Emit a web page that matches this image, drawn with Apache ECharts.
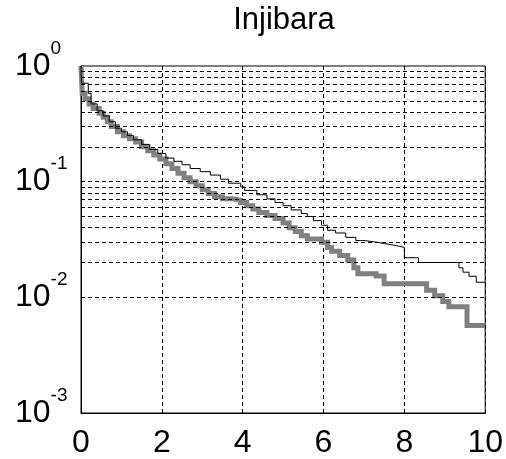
<!DOCTYPE html>
<html lang="en">
<head>
    <meta charset="UTF-8">
    <title>Injibara</title>
    <script src="https://cdn.jsdelivr.net/npm/echarts@6/dist/echarts.min.js"></script>
</head>
<body style="margin:0">
    <div id="main" style="width: 506px;height:459px;"></div>
    <script type="text/javascript">
        // thin black step curve
        var blackX = [0, 0.01, 0.18, 0.25, 0.4, 0.55, 0.7, 0.85, 1.0, 1.15, 1.3, 1.5, 1.7, 1.9, 2.1, 2.3, 2.5, 2.7, 2.95, 3.2, 3.45, 3.65, 3.95, 4.05, 4.35, 4.6, 4.8, 5.0, 5.2, 5.45, 5.6, 5.75, 5.95, 6.1, 6.3, 6.55, 6.8, 7.0, 7.3, 7.55, 7.8, 8.0, 8.35, 9.35, 9.45, 9.6, 9.78, 10];
        var blackY = [1, 0.71, 0.58, 0.47, 0.41, 0.37, 0.33, 0.29, 0.27, 0.25, 0.23, 0.21, 0.19, 0.175, 0.16, 0.15, 0.14, 0.13, 0.122, 0.114, 0.105, 0.097, 0.09, 0.084, 0.077, 0.071, 0.066, 0.062, 0.057, 0.053, 0.05, 0.046, 0.042, 0.038, 0.036, 0.033, 0.031, 0.030, 0.029, 0.028, 0.027, 0.022, 0.020, 0.018, 0.0165, 0.0152, 0.0135, 0.0135];

        // thick gray step curve
        var grayX = [0, 0.03, 0.1, 0.2, 0.3, 0.45, 0.55, 0.65, 0.75, 0.9, 1.05, 1.2, 1.35, 1.5, 1.65, 1.8, 1.95, 2.1, 2.25, 2.4, 2.55, 2.7, 2.85, 3.0, 3.15, 3.3, 3.5, 3.75, 3.95, 4.1, 4.25, 4.4, 4.6, 4.8, 5.0, 5.15, 5.3, 5.45, 5.6, 5.95, 6.1, 6.2, 6.4, 6.6, 6.75, 6.85, 7.3, 7.5, 8.55, 8.75, 8.95, 9.1, 9.55, 10];
        var grayY = [1, 0.58, 0.52, 0.47, 0.43, 0.39, 0.36, 0.33, 0.3, 0.27, 0.25, 0.235, 0.22, 0.2, 0.185, 0.17, 0.157, 0.143, 0.13, 0.118, 0.108, 0.1, 0.092, 0.085, 0.079, 0.074, 0.071, 0.069, 0.066, 0.062, 0.058, 0.054, 0.051, 0.048, 0.044, 0.04, 0.037, 0.034, 0.032, 0.030, 0.027, 0.025, 0.023, 0.021, 0.018, 0.016, 0.0153, 0.0131, 0.0115, 0.0103, 0.0092, 0.0083, 0.0057, 0.0057];

        // dashed horizontal grid values
        var gridY = [0.002, 0.003, 0.004, 0.005, 0.006, 0.007, 0.008, 0.009, 0.01,
            0.02, 0.03, 0.04, 0.05, 0.06, 0.07, 0.08, 0.09, 0.1,
            0.2, 0.3, 0.4, 0.5, 0.6, 0.7, 0.8, 0.9];

        function pairs(xs, ys) {
            var out = [];
            for (var i = 0; i < xs.length; i++) {
                out.push([xs[i], ys[i]]);
            }
            return out;
        }

        var myChart = echarts.init(document.getElementById('main'));
        var font = '"Liberation Sans", Arial, sans-serif';

        var option = {
            animation: false,
            backgroundColor: '#fff',
            title: {
                text: 'Injibara',
                left: 279,
                top: 0,
                textAlign: 'center',
                textStyle: {
                    fontFamily: font,
                    fontSize: 31,
                    fontWeight: 'normal',
                    color: '#000'
                }
            },
            grid: {
                left: 81,
                right: 20,
                top: 66,
                bottom: 44,
                show: true,
                borderColor: '#000',
                borderWidth: 1
            },
            xAxis: {
                type: 'value',
                min: 0,
                max: 10,
                interval: 2,
                axisLine: { lineStyle: { color: '#000' } },
                axisTick: { show: false },
                splitLine: {
                    show: true,
                    lineStyle: { color: '#000', type: [4, 3], width: 1 }
                },
                axisLabel: {
                    color: '#000',
                    fontFamily: font,
                    fontSize: 32,
                    margin: 14
                }
            },
            yAxis: {
                type: 'log',
                logBase: 10,
                min: 0.001,
                max: 1,
                axisLine: { lineStyle: { color: '#000' } },
                axisTick: { show: false },
                splitLine: { show: false },
                axisLabel: {
                    align: 'left',
                    margin: 66,
                    formatter: function (v) {
                        return '{b|10}{s|' + Math.round(Math.log10(v)) + '}';
                    },
                    rich: {
                        b: {
                            fontFamily: font,
                            fontSize: 32,
                            lineHeight: 54,
                            color: '#000',
                            verticalAlign: 'middle'
                        },
                        s: {
                            fontFamily: font,
                            fontSize: 19,
                            lineHeight: 19,
                            color: '#000',
                            verticalAlign: 'top'
                        }
                    }
                }
            },
            series: [
                {
                    name: 'grid',
                    type: 'line',
                    data: [],
                    silent: true,
                    markLine: {
                        silent: true,
                        symbol: 'none',
                        label: { show: false },
                        lineStyle: { color: '#000', type: [4, 3], width: 1 },
                        data: gridY.map(function (v) { return { yAxis: v }; })
                    }
                },
                {
                    name: 'gray',
                    type: 'line',
                    step: 'end',
                    showSymbol: false,
                    symbol: 'none',
                    lineStyle: { color: '#808080', width: 5, cap: 'butt', join: 'miter' },
                    data: pairs(grayX, grayY)
                },
                {
                    name: 'black',
                    type: 'line',
                    step: 'end',
                    showSymbol: false,
                    symbol: 'none',
                    lineStyle: { color: '#000', width: 1 },
                    data: pairs(blackX, blackY)
                }
            ]
        };

        myChart.setOption(option);
    </script>
</body>
</html>
